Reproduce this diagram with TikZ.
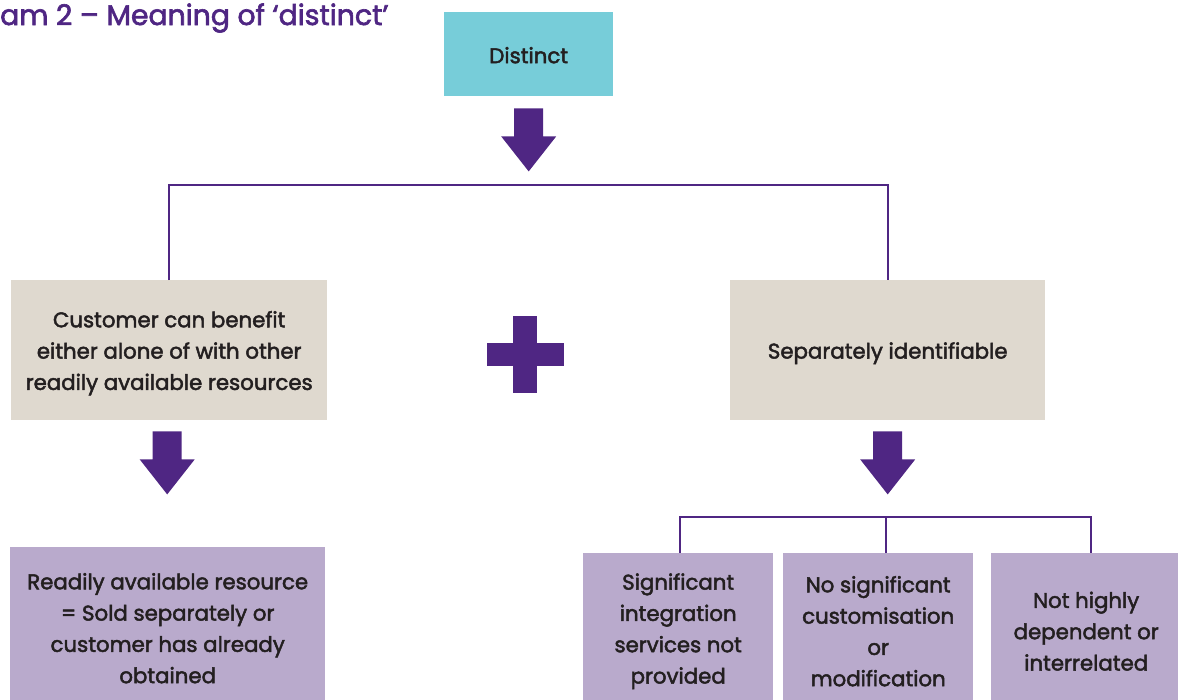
\documentclass[tikz,border=0pt]{standalone}
\usepackage{fontspec}
\setmainfont{Poppins}
\newfontfamily\medfont{Poppins}[FakeBold=2.2]
\definecolor{pp}{HTML}{4F2683}
\definecolor{cy}{HTML}{77CDD9}
\definecolor{bg}{HTML}{DFD9CF}
\definecolor{lv}{HTML}{B9AACC}
\definecolor{tx}{HTML}{231F20}
\begin{document}
\begin{tikzpicture}[x=1pt,y=-1pt,
  box/.style={draw=none, anchor=north west, inner sep=0pt},
  txt/.style={inner sep=0pt, align=center, text=tx,
    font=\medfont\fontsize{21.3}{31.3}\selectfont},
  conn/.style={draw=pp, line width=2.2pt},
  blockarrow/.pic={\fill[pp] (-14.5,0) -- (14.5,0) -- (14.5,28) -- (27.5,28) -- (0,63)
    -- (-27.5,28) -- (-14.5,28) -- cycle;},
  title/.style={anchor=base west, inner sep=0pt, text=pp, font=\medfont\fontsize{28.3}{32}\selectfont}
]
\useasboundingbox (0,0) rectangle (1178,699);
\clip (0,0) rectangle (1178,699);
\node[title] (t) at (0,25) {am 2 – Meaning of ‘distinct’};
% boxes
\node[box, fill=cy, minimum width=169pt, minimum height=84pt] (d) at (444,12) {};
\node[box, fill=bg, minimum width=316pt, minimum height=140pt] (l) at (11,280) {};
\node[box, fill=bg, minimum width=315pt, minimum height=140pt] (r) at (730,280) {};
\node[box, fill=lv, minimum width=315pt, minimum height=162pt] (bl) at (10,547) {};
\node[box, fill=lv, minimum width=190pt, minimum height=156pt] (b1) at (583,553) {};
\node[box, fill=lv, minimum width=190pt, minimum height=156pt] (b2) at (783,553) {};
\node[box, fill=lv, minimum width=190pt, minimum height=156pt] (b3) at (991,553) {};
% texts
\node[txt] (dt) at ([yshift=-1pt]d.center) {Distinct};
\node[txt] (lt) at ([yshift=-3pt]l.center)
  {Customer can benefit\\either alone of with other\\readily available resources};
\node[txt] (rt) at ([yshift=-3pt]r.center) {Separately identifiable};
\node[txt] (blt) at (bl.center)
  {Readily available resource\\= Sold separately or\\customer has already\\obtained};
\node[txt] (b1t) at (b1.center) {Significant\\integration\\services not\\provided};
\node[txt] (b2t) at (b2.center) {No significant\\customisation\\or\\modification};
\node[txt] (b3t) at (b3.center) {Not highly\\dependent or\\interrelated};
% connectors
\draw[conn] (l.north) -- ++(0,-95) -| (r.north);
\coordinate (hub) at (886,517);
\draw[conn] ([xshift=2pt]b1.north) -- ([xshift=2pt]b1.north |- hub)
  -- ([xshift=5pt]b3.north |- hub) -- ([xshift=5pt]b3.north);
\draw[conn] (hub) -- (hub |- b2.north);
% block arrows
\pic at ([yshift=-12pt]d.south) {blockarrow};
\pic at ([xshift=-2pt,yshift=-11pt]l.south) {blockarrow};
\pic at ([yshift=-11pt]r.south) {blockarrow};
% plus
\fill[pp] (487,343) rectangle (564,366);
\fill[pp] (513,316) rectangle (537,393);
\end{tikzpicture}
\end{document}
